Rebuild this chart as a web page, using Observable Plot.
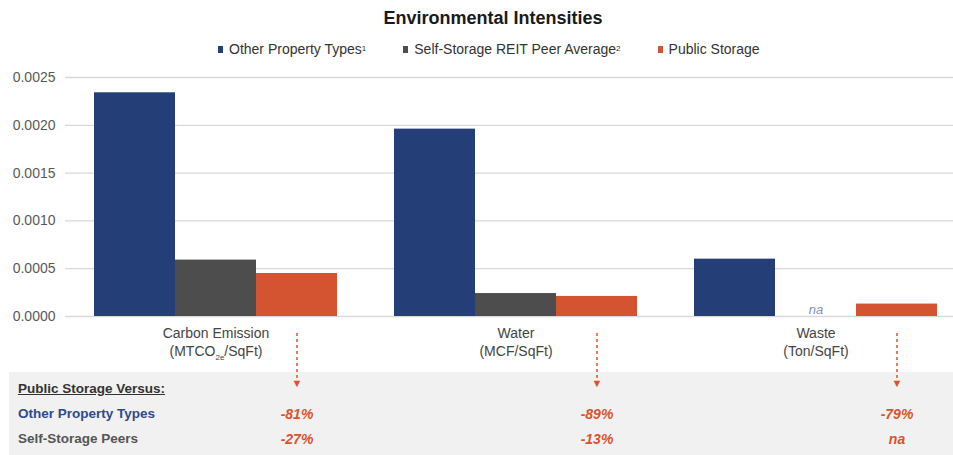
<!DOCTYPE html>
<html><head><meta charset="utf-8">
<script src="https://cdn.jsdelivr.net/npm/d3@7"></script>
<script src="https://cdn.jsdelivr.net/npm/@observablehq/plot@0.6"></script>
<style>
html,body{margin:0;padding:0;background:#fff;overflow:hidden;width:953px;height:455px;}
body{position:relative;font-family:"Liberation Sans",Arial,sans-serif;}
#title{position:absolute;top:7px;left:0;width:986px;text-align:center;font-weight:bold;font-size:18px;line-height:22px;color:#1a1a1a;}
#legend{position:absolute;top:40px;left:218px;display:flex;align-items:center;font-size:14px;line-height:18px;color:#333;white-space:nowrap;}
#legend .item{display:flex;align-items:center;}
#legend .sw{display:inline-block;width:5px;height:7px;margin-right:6px;}
#legend sup{font-size:8px;vertical-align:6px;line-height:0;}
#bg{position:absolute;left:9px;top:372px;width:944px;height:83px;background:#f0f1f0;}
#chart{position:absolute;left:0;top:60px;width:965px;}
#chart svg{max-width:none !important;}
.rowlab{position:absolute;left:18px;font-size:13.5px;font-weight:bold;line-height:16px;white-space:nowrap;}
</style>
</head>
<body>
<div id="bg"></div>
<div id="title"></div>
<div id="legend"></div>
<div id="rowlabels"></div>
<div id="chart"></div>
<script>
const categories = ["Carbon Emission", "Water", "Waste"];
const categoryUnits = ["(MTCO2e/SqFt)", "(MCF/SqFt)", "(Ton/SqFt)"];
const seriesNames = ["Other Property Types", "Self-Storage REIT Peer Average", "Public Storage"];
const seriesNotes = ["1", "2", ""];
const otherPropertyTypes = [0.00234, 0.00196, 0.00060];
const peerAverage = [0.00059, 0.00024, null];
const publicStorage = [0.00045, 0.00021, 0.00013];
const vsOther = ["-81%", "-89%", "-79%"];
const vsPeers = ["-27%", "-13%", "na"];
const yTicks = [0, 0.0005, 0.0010, 0.0015, 0.0020, 0.0025];
const rowLabels = ["Public Storage Versus:", "Other Property Types", "Self-Storage Peers"];
const colors = ["#243f78", "#4d4d4d", "#d45331"];
const titleText = "Environmental Intensities";

document.getElementById("title").textContent = titleText;

// legend
const legend = document.getElementById("legend");
seriesNames.forEach((s, i) => {
  const it = document.createElement("div");
  it.className = "item";
  it.style.marginRight = i < seriesNames.length - 1 ? "37px" : "0";
  const sw = document.createElement("span");
  sw.className = "sw"; sw.style.background = colors[i];
  it.appendChild(sw);
  const t = document.createElement("span");
  t.textContent = s;
  it.appendChild(t);
  if (seriesNotes[i]) { const sp = document.createElement("sup"); sp.textContent = seriesNotes[i]; it.appendChild(sp); }
  legend.appendChild(it);
});

// row labels of the comparison table
const rl = document.getElementById("rowlabels");
const rowTops = [381, 406, 431];
const rowColors = ["#333", "#2f4a8c", "#555"];
rowLabels.forEach((s, i) => {
  const d = document.createElement("div");
  d.className = "rowlab";
  d.textContent = s;
  d.style.top = rowTops[i] + "px";
  d.style.color = rowColors[i];
  if (i === 0) d.style.textDecoration = "underline";
  rl.appendChild(d);
});

const rows = [];
const seriesValues = [otherPropertyTypes, peerAverage, publicStorage];
categories.forEach((c, i) => {
  seriesNames.forEach((s, j) => {
    rows.push({category: c, unit: categoryUnits[i], series: s, value: seriesValues[j][i], vsOther: vsOther[i], vsPeers: vsPeers[i]});
  });
});

const u = 0.0025 / 239; // data units per pixel, for annotations below the axis
const isPS = d => d.series === seriesNames[2];
const isMid = d => d.series === seriesNames[1];
const orange = "#d9532f";

const chart = Plot.plot({
  width: 965,
  height: 395,
  marginTop: 17,
  marginBottom: 139,
  marginLeft: 65,
  marginRight: 0,
  style: {background: "transparent", fontFamily: "Liberation Sans, Arial, sans-serif", fontSize: "14px", color: "#595959", overflow: "visible", maxWidth: "none"},
  facet: {data: rows, x: "category", marginRight: 0, marginLeft: 0},
  fx: {domain: categories, padding: 0, axis: null, label: null},
  x: {domain: seriesNames, paddingInner: 0, paddingOuter: 0.337, axis: null},
  y: {domain: [0, 0.0025], ticks: yTicks, tickFormat: d3.format(".4f"), label: null, tickSize: 0, tickPadding: 10},
  color: {domain: seriesNames, range: colors},
  marks: [
    Plot.ruleY(yTicks, {stroke: "#d9d9d9", strokeWidth: 1.3}),
    Plot.barY(rows, {filter: d => d.value != null, x: "series", y: "value", fill: "series"}),
    Plot.text(rows, {filter: d => d.value == null, x: "series", y: () => 0, text: () => "na", dy: -7, fill: "#8790c2", fontStyle: "italic", fontSize: 13}),
    Plot.text(rows, {filter: isMid, x: "series", y: () => 0, text: "category", dy: 17, fill: "#444", fontSize: 14}),
    Plot.text(rows, {filter: isMid, x: "series", y: () => 0, text: "unit", dy: 35, fill: "#444", fontSize: 14}),
    Plot.ruleX(rows, {filter: isPS, x: "series", y1: () => -17 * u, y2: () => -63 * u, stroke: orange, strokeWidth: 1.5, strokeDasharray: "3,3"}),
    Plot.text(rows, {filter: isPS, x: "series", y: () => 0, text: () => "▼", dy: 67, fill: orange, fontSize: 11}),
    Plot.text(rows, {filter: isPS, x: "series", y: () => 0, text: "vsOther", dy: 98, fill: orange, fontSize: 14, fontWeight: "bold", fontStyle: "italic"}),
    Plot.text(rows, {filter: isPS, x: "series", y: () => 0, text: "vsPeers", dy: 123, fill: orange, fontSize: 14, fontWeight: "bold", fontStyle: "italic"})
  ]
});

// subscript for CO2e
chart.querySelectorAll("text").forEach(t => {
  if (t.textContent === "(MTCO2e/SqFt)") {
    const ns = "http://www.w3.org/2000/svg";
    while (t.firstChild) t.removeChild(t.firstChild);
    const a = document.createElementNS(ns, "tspan"); a.textContent = "(MTCO";
    const b = document.createElementNS(ns, "tspan"); b.textContent = "2e"; b.setAttribute("dy", "4"); b.setAttribute("font-size", "8");
    const c = document.createElementNS(ns, "tspan"); c.textContent = "/SqFt)"; c.setAttribute("dy", "-4");
    t.appendChild(a); t.appendChild(b); t.appendChild(c);
  }
});
chart.style.maxWidth = "none";
document.getElementById("chart").appendChild(chart);
</script>
</body></html>
